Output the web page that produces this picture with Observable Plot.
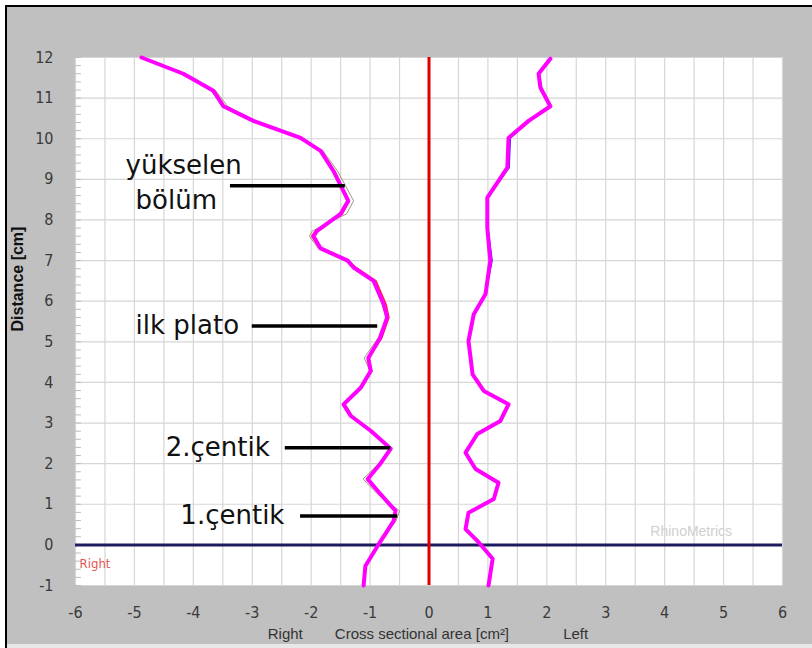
<!DOCTYPE html>
<html><head><meta charset="utf-8">
<script src="https://cdn.jsdelivr.net/npm/d3@7"></script>
<script src="https://cdn.jsdelivr.net/npm/@observablehq/plot@0.6"></script>
<style>
body{margin:0;background:#fff;}
#wrap{position:relative;width:812px;height:648px;overflow:hidden;}
#wrap svg{position:absolute;left:0;top:0;}
.ov{position:absolute;pointer-events:none;}
</style></head>
<body>
<div id="wrap"></div>
<script>
// Axis ticks
const xTicks = [-6,-5,-4,-3,-2,-1,0,1,2,3,4,5,6];
const yTicks = [-1,0,1,2,3,4,5,6,7,8,9,10,11,12];
const gridX = d3.range(-6, 6.01, 0.5);
const gridY = yTicks;
const minorY = d3.range(-1, 12.01, 0.2);

// Right side of nose (negative area), magenta measurement
const rightY = [12, 11.6, 11.18, 10.8, 10.44, 10.02, 9.7, 9.2, 8.47, 8.15, 7.73, 7.6, 7.3, 7.0, 6.83, 6.5, 5.93, 5.6, 5.1, 4.6, 4.28, 3.87, 3.46, 3.18, 2.81, 2.37, 1.99, 1.62, 1.26, 0.84, 0.59, 0.34, -0.02, -0.52, -1];
const rightX = [-4.88, -4.17, -3.66, -3.49, -2.98, -2.18, -1.84, -1.62, -1.37, -1.5, -1.9, -1.96, -1.84, -1.38, -1.28, -0.94, -0.77, -0.71, -0.83, -1.03, -0.99, -1.16, -1.45, -1.33, -0.99, -0.65, -0.83, -1.04, -0.83, -0.57, -0.6, -0.71, -0.87, -1.08, -1.11];
// thin repeat measurements (right side)
const rightGrayX = [-4.86, -4.14, -3.62, -3.42, -2.95, -2.16, -1.8, -1.55, -1.28, -1.4, -1.98, -2.03, -1.88, -1.4, -1.3, -0.96, -0.8, -0.72, -0.86, -1.1, -1.0, -1.18, -1.42, -1.3, -1.0, -0.66, -0.86, -1.12, -0.88, -0.5, -0.56, -0.7, -0.88, -1.08, -1.11];
const rightRedX = [-4.88, -4.16, -3.64, -3.47, -2.97, -2.17, -1.83, -1.6, -1.36, -1.47, -1.93, -1.99, -1.85, -1.37, -1.24, -0.9, -0.73, -0.68, -0.8, -1.02, -0.97, -1.14, -1.44, -1.31, -0.98, -0.64, -0.82, -1.05, -0.84, -0.55, -0.59, -0.7, -0.87, -1.08, -1.11];

// Left side of nose (positive area)
const leftY = [11.97, 11.6, 11.26, 10.8, 10.44, 10.02, 9.29, 8.55, 7.8, 7.0, 6.18, 5.68, 5.02, 4.2, 3.79, 3.46, 3.05, 2.73, 2.27, 1.87, 1.53, 1.13, 0.79, 0.39, 0.1, -0.34, -1];
const leftX = [2.06, 1.86, 1.89, 2.06, 1.69, 1.35, 1.33, 0.99, 0.99, 1.04, 0.96, 0.76, 0.67, 0.74, 0.93, 1.35, 1.21, 0.82, 0.62, 0.79, 1.18, 1.1, 0.67, 0.62, 0.82, 1.08, 1.01];
const leftBlueX = [2.06, 1.87, 1.91, 2.06, 1.7, 1.38, 1.36, 1.0, 1.0, 1.07, 0.96, 0.76, 0.67, 0.74, 0.93, 1.35, 1.21, 0.82, 0.62, 0.79, 1.18, 1.1, 0.67, 0.62, 0.82, 1.08, 1.01];

// Annotations
const annLabels = ["yükselen", "bölüm", "ilk plato", "2.çentik", "1.çentik"];
const annTextX = [-5.15, -4.98, -4.98, -4.47, -4.22];
const annTextY = [9.33, 8.47, 5.39, 2.39, 0.71];
const leaderY = [8.84, 5.39, 2.39, 0.71];
const leaderX1 = [-3.37, -3.0, -2.44, -2.18];
const leaderX2 = [-1.42, -0.87, -0.65, -0.53];

const ann = annLabels.map((t, i) => ({t, x: annTextX[i], y: annTextY[i]}));
const leaders = leaderY.map((y, i) => ({y, x1: leaderX1[i], x2: leaderX2[i]}));

const narrow = "'Liberation Sans Narrow', 'DejaVu Sans Condensed', 'Liberation Sans', sans-serif";

const chart = Plot.plot({
  width: 812, height: 648,
  marginLeft: 75, marginRight: 30, marginTop: 57, marginBottom: 63,
  style: {background: "#c0c0c0", fontFamily: "'Liberation Sans', Arial, sans-serif", fontSize: "14px", color: "#3a3a3a", overflow: "visible"},
  x: {domain: [-6, 6]},
  y: {domain: [-1, 12]},
  marks: [
    Plot.frame({fill: "white", stroke: "none"}),
    Plot.ruleX(gridX, {y1: -1, y2: 12, stroke: "#d6d6d6", strokeWidth: 1.2}),
    Plot.ruleY(gridY, {x1: -6, x2: 6, stroke: "#d6d6d6", strokeWidth: 1.2}),
    Plot.ruleY(minorY, {x1: -6, x2: -5.9, stroke: "#bdbdbd"}),
    Plot.axisX({ticks: xTicks, tickSize: 0, tickPadding: 21, label: null, fontSize: 16, fontFamily: narrow, fill: "#3a3a3a", tickFormat: d => String(d)}),
    Plot.axisY({ticks: yTicks, tickSize: 0, tickPadding: 22, label: null, fontSize: 16, fontFamily: narrow, fill: "#3a3a3a", tickFormat: d => String(d)}),
    Plot.text(["Distance [cm]"], {frameAnchor: "left", dx: -58, dy: 10, rotate: -90, fontWeight: "bold", fill: "#111", fontSize: 16}),
    Plot.text(["Right"], {x: -2.44, y: -1, dy: 49, fill: "#333", fontSize: 15}),
    Plot.text(["Cross sectional area [cm²]"], {x: -0.12, y: -1, dy: 49, fill: "#333", fontSize: 15}),
    Plot.text(["Left"], {x: 2.49, y: -1, dy: 49, fill: "#333", fontSize: 15}),
    Plot.text(["RhinoMetrics"], {x: 4.45, y: 0.32, fill: "#cfcfcf", fontSize: 14}),
    Plot.text(["Right"], {x: -5.93, y: -0.47, textAnchor: "start", fill: "#e25555", fontSize: 13, fontFamily: narrow}),
    Plot.ruleY([0], {x1: -6, x2: 6, stroke: "#1c1c5e", strokeWidth: 3}),
    Plot.ruleX([0], {y1: -1, y2: 12, stroke: "#e00000", strokeWidth: 3}),
    Plot.line(rightY, {x: rightGrayX, y: rightY, stroke: "#a89080", strokeWidth: 1}),
    Plot.line(rightY, {x: rightRedX, y: rightY, stroke: "#ff2020", strokeWidth: 1.5}),
    Plot.line(leftY, {x: leftBlueX, y: leftY, stroke: "#2020ff", strokeWidth: 1.5}),
    Plot.line(rightY, {x: rightX, y: rightY, stroke: "#ff00ff", strokeWidth: 4, strokeLinejoin: "round"}),
    Plot.line(leftY, {x: leftX, y: leftY, stroke: "#ff00ff", strokeWidth: 4, strokeLinejoin: "round"}),
    Plot.ruleY(leaders, {y: "y", x1: "x1", x2: "x2", stroke: "#000", strokeWidth: 3.5}),
    Plot.text(ann, {x: "x", y: "y", text: "t", textAnchor: "start", fill: "#111", fontSize: 26, fontFamily: "'DejaVu Sans', sans-serif"})
  ]
});
const wrap = document.getElementById("wrap");
wrap.appendChild(chart);
function ov(l, t, w, h, c) {
  const d = document.createElement("div");
  d.className = "ov";
  Object.assign(d.style, {left: l + "px", top: t + "px", width: w + "px", height: h + "px", background: c});
  wrap.appendChild(d);
}
ov(0, 0, 812, 5, "#fff");
ov(0, 0, 5, 648, "#fff");
ov(5, 5, 2, 643, "#000");
ov(5, 5, 807, 2, "#000");
ov(7, 644, 805, 4, "#e8e8e8");
</script>
</body></html>
